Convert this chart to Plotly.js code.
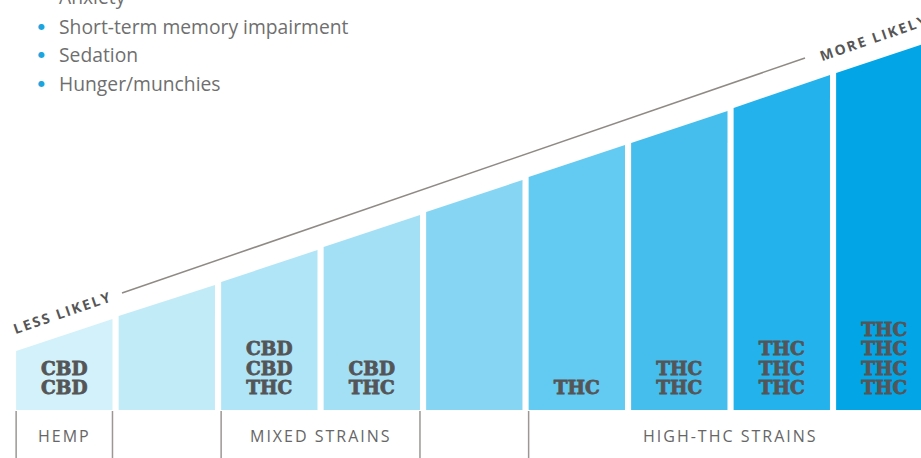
<!DOCTYPE html>
<html><head><meta charset="utf-8">
<script src="https://cdn.plot.ly/plotly-3.0.1.min.js"></script>
<style>html,body{margin:0;padding:0;background:#fff}#chart{width:921px;height:458px}
.textpoint text{stroke:#545557;stroke-width:0.8px;paint-order:stroke}</style>
</head><body><div id="chart"></div>
<script>
// ---- data ----
const effects = ['Anxiety', 'Short-term memory impairment', 'Sedation', 'Hunger/munchies'];
const columnContents = [
  ['CBD', 'CBD'], [], ['CBD', 'CBD', 'THC'], ['CBD', 'THC'], [],
  ['THC'], ['THC', 'THC'], ['THC', 'THC', 'THC'], ['THC', 'THC', 'THC', 'THC']
];
const topLeft  = [59, 94, 128, 163, 198, 233, 267, 302, 337];
const topRight = [91, 125, 160, 195, 230, 265, 299, 335, 369];
const columnColors = ['#d3f1fb', '#c2ebf8', '#b0e5f7', '#a3e0f6', '#86d6f3', '#63caf1', '#45beee', '#23b2eb', '#02a5e5'];
const groupLabels = ['HEMP', 'MIXED STRAINS', 'HIGH-THC STRAINS'];
const groupFirst = [0, 2, 5];
const groupLast  = [0, 3, 8];
const scaleLabels = ['LESS LIKELY', 'MORE LIKELY'];

// ---- layout constants ----
const W = 921, H = 458;
const col0 = 64.3, pitch = 102.5, base = 410, hw = 0.47;
const px = x => x / W, py = y => 1 - y / H;
const lineStep = 19.5, firstLine = 20.5;

const traces = [];
columnContents.forEach((c, i) => {
  traces.push({
    type: 'scatter', mode: 'lines', hoverinfo: 'skip', showlegend: false,
    x: [i - hw, i - hw, i + hw, i + hw, i - hw],
    y: [0, topLeft[i], topRight[i], 0, 0],
    fill: 'toself', fillcolor: columnColors[i], line: {width: 0}
  });
});
const tx = [], ty = [], tt = [];
columnContents.forEach((c, i) => {
  c.forEach((s, j) => { tx.push(i); ty.push(firstLine + (c.length - 1 - j) * lineStep); tt.push('<b>' + s + '</b>'); });
});
traces.push({
  type: 'scatter', mode: 'text', x: tx, y: ty, text: tt, hoverinfo: 'skip', showlegend: false,
  textposition: 'middle center',
  textfont: {family: 'DejaVu Serif', size: 18.5, color: '#545557'}
});

const annotations = [];
const itemY = [-3, 26, 54.7, 83.4];
effects.forEach((e, k) => {
  annotations.push({xref: 'paper', yref: 'paper', x: px(41.5), y: py(itemY[k]), text: '●', showarrow: false,
    xanchor: 'center', yanchor: 'middle', font: {family: 'DejaVu Sans', size: 8, color: '#1ba5df'}});
  annotations.push({xref: 'paper', yref: 'paper', x: px(57), y: py(itemY[k]), text: e, showarrow: false,
    xanchor: 'left', yanchor: 'middle', font: {family: 'Open Sans', size: 19.3, color: '#6f6f6f'}});
});
groupLabels.forEach((g, k) => {
  annotations.push({xref: 'x', yref: 'y', x: (groupFirst[k] + groupLast[k]) / 2, y: -26, text: g, showarrow: false,
    xanchor: 'center', yanchor: 'middle', font: {family: 'Open Sans', size: 16, color: '#666666'}});
});
annotations.push({xref: 'paper', yref: 'paper', x: px(62), y: py(312.5), text: scaleLabels[0], showarrow: false,
  textangle: -19, xanchor: 'center', yanchor: 'middle', font: {family: 'Open Sans', size: 14, color: '#565656', weight: 'bold'}});
annotations.push({xref: 'paper', yref: 'paper', x: px(874), y: py(37), text: scaleLabels[1], showarrow: false,
  textangle: -19, xanchor: 'center', yanchor: 'middle', font: {family: 'Open Sans', size: 14, color: '#565656', weight: 'bold'}});

const shapes = [];
const edges = [];
groupFirst.forEach((f, k) => { edges.push(f - hw); edges.push(groupLast[k] + hw); });
edges.forEach(e => shapes.push({type: 'line', xref: 'x', yref: 'y', x0: e, x1: e, y0: -1, y1: -48,
  line: {color: '#9c9793', width: 1.5}}));
shapes.push({type: 'line', xref: 'paper', yref: 'paper', x0: px(122), y0: py(293), x1: px(805), y1: py(58),
  line: {color: '#8f8a85', width: 1.5}});

const layout = {
  width: W, height: H, margin: {l: 0, r: 0, t: 0, b: 0},
  paper_bgcolor: '#ffffff', plot_bgcolor: '#ffffff', showlegend: false,
  xaxis: {range: [(0 - col0) / pitch, (W - col0) / pitch], visible: false, fixedrange: true},
  yaxis: {range: [base - H, base], visible: false, fixedrange: true},
  annotations, shapes
};
Plotly.newPlot('chart', traces, layout, {staticPlot: true}).then(() => {
  const spaced = groupLabels.concat(scaleLabels);
  document.querySelectorAll('.annotation-text').forEach(t => {
    if (spaced.indexOf(t.textContent) >= 0) t.style.letterSpacing = '2px';
  });
});
</script></body></html>
